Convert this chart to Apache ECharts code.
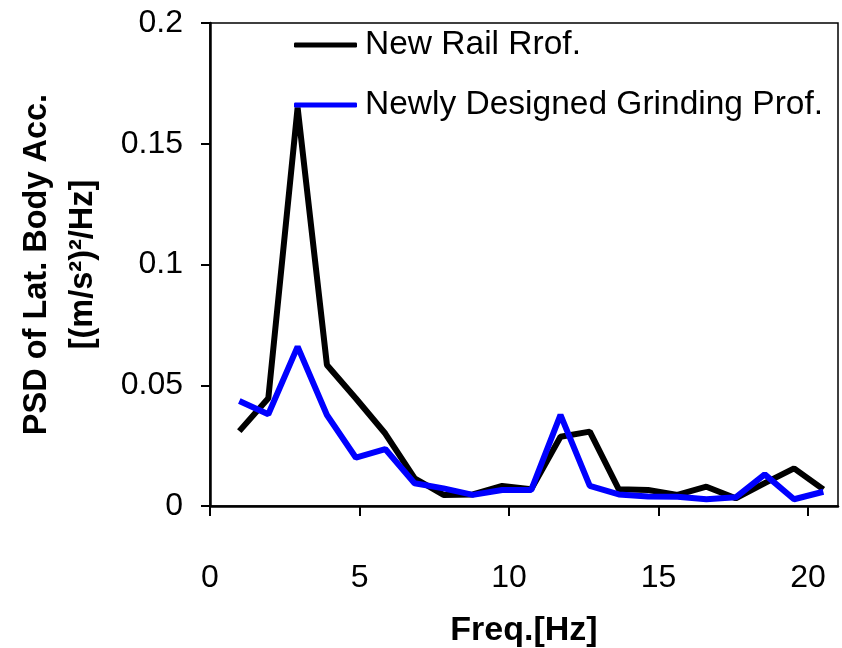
<!DOCTYPE html>
<html>
<head>
<meta charset="utf-8">
<script src="https://cdn.jsdelivr.net/npm/echarts@6/dist/echarts.min.js"></script>
<style>
  html, body { margin: 0; padding: 0; background: #fff; }
  #psdChart { width: 842px; height: 648px; }
</style>
</head>
<body>
<div id="psdChart"></div>
<script>
  // frequencies [Hz]
  var freqs = [0.98, 1.95, 2.93, 3.91, 4.88, 5.86, 6.84, 7.81, 8.79, 9.77, 10.74,
    11.72, 12.70, 13.67, 14.65, 15.63, 16.60, 17.58, 18.55, 19.53, 20.51];
  // PSD values
  var newRail = [0.031, 0.0446, 0.165, 0.0584, 0.0445, 0.030, 0.0115, 0.0046, 0.0048, 0.0083, 0.0069,
    0.0287, 0.0308, 0.0069, 0.0066, 0.0046, 0.008, 0.0032, 0.0095, 0.0156, 0.0069];
  var newGrinding = [0.0435, 0.038, 0.066, 0.0377, 0.020, 0.0236, 0.0094, 0.0073, 0.0046, 0.0066, 0.0066,
    0.0377, 0.0083, 0.0048, 0.0039, 0.0038, 0.0028, 0.0036, 0.0131, 0.0028, 0.0059];
  var xTicks = [0, 5, 10, 15, 20];
  var seriesNames = ['New Rail Rrof.', 'Newly Designed Grinding Prof.'];

  function pairs(ys) {
    return freqs.map(function (f, i) { return [f, ys[i]]; });
  }

  var font = '"Liberation Sans", Arial, sans-serif';
  var myChart = echarts.init(document.getElementById('psdChart'));
  var option = {
    backgroundColor: '#fff',
    animation: false,
    color: ['#000000', '#0000ff'],
    grid: {
      left: 210,
      right: 4,
      top: 23,
      bottom: 142,
      outerBoundsMode: 'none',
      show: true,
      borderColor: '#000',
      borderWidth: 1.5
    },
    legend: {
      data: seriesNames,
      orient: 'vertical',
      left: 294,
      top: 28,
      padding: 0,
      icon: 'roundRect',
      itemWidth: 63,
      itemHeight: 5,
      itemGap: 26,
      textStyle: {
        fontFamily: font,
        fontSize: 33.5,
        color: '#000',
        lineHeight: 34,
        padding: [0, 0, 0, 3]
      }
    },
    xAxis: {
      type: 'value',
      min: 0,
      max: 21,
      interval: 5,
      name: 'Freq.[Hz]',
      nameLocation: 'middle',
      nameGap: 108,
      nameTextStyle: {
        fontFamily: font,
        fontSize: 34,
        fontWeight: 'bold',
        color: '#000'
      },
      splitLine: { show: false },
      axisLine: { onZero: false, lineStyle: { color: '#000', width: 2.5 } },
      axisTick: {
        inside: false,
        length: 10,
        customValues: xTicks,
        lineStyle: { color: '#000', width: 2 }
      },
      axisLabel: {
        margin: 56,
        customValues: xTicks,
        fontFamily: font,
        fontSize: 32,
        color: '#000'
      }
    },
    yAxis: {
      type: 'value',
      min: 0,
      max: 0.2,
      interval: 0.05,
      name: 'PSD of Lat. Body Acc.\n[(m/s²)²/Hz]',
      nameLocation: 'middle',
      nameGap: 104,
      nameTextStyle: {
        fontFamily: font,
        fontSize: 32.5,
        fontWeight: 'bold',
        color: '#000',
        lineHeight: 46
      },
      splitLine: { show: false },
      axisLine: { show: true, lineStyle: { color: '#000', width: 2.5 } },
      axisTick: {
        show: true,
        inside: false,
        length: 9,
        lineStyle: { color: '#000', width: 2 }
      },
      axisLabel: {
        margin: 27,
        fontFamily: font,
        fontSize: 32,
        color: '#000'
      }
    },
    series: [
      {
        name: seriesNames[0],
        type: 'line',
        symbol: 'none',
        lineStyle: { color: '#000000', width: 6 },
        data: pairs(newRail)
      },
      {
        name: seriesNames[1],
        type: 'line',
        symbol: 'none',
        lineStyle: { color: '#0000ff', width: 6 },
        data: pairs(newGrinding)
      }
    ]
  };
  myChart.setOption(option);
</script>
</body>
</html>
